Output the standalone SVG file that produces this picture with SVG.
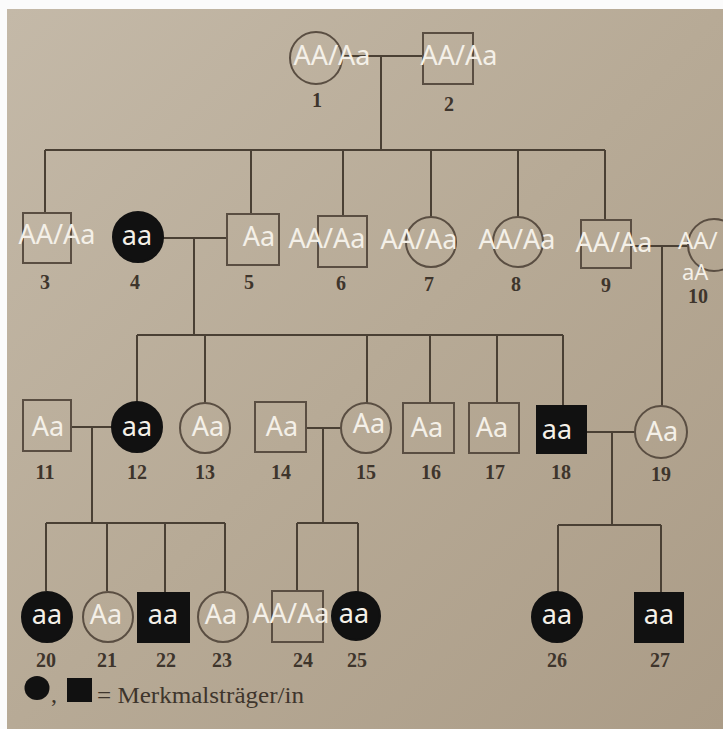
<svg xmlns="http://www.w3.org/2000/svg" width="723" height="729" viewBox="0 0 723 729">
<defs>
<linearGradient id="bg" x1="0" y1="0" x2="1" y2="1">
<stop offset="0" stop-color="#c4b9a8"/>
<stop offset="0.5" stop-color="#b7aa96"/>
<stop offset="1" stop-color="#ab9c87"/>
</linearGradient>
<style>
.ln{stroke:#4a4034;stroke-width:2;fill:none}
.o{fill:none;stroke:#5a4e42;stroke-width:2}
.f{fill:#111;stroke:#111;stroke-width:2}
.g{font-family:"Noto Sans",sans-serif;font-size:27px;fill:#f4f0e8;text-anchor:middle}
.n{font-family:"Liberation Serif",serif;font-size:20px;font-weight:bold;fill:#3e352c;text-anchor:middle}
.lg{font-family:"Liberation Serif",serif;font-size:24px;fill:#3e352c}
</style>
</defs>
<rect width="723" height="729" fill="#fbfbfb"/>
<rect x="7" y="9" width="716" height="720" fill="url(#bg)"/>
<g id="connectors">
<path class="ln" d="M342 56H423M381 56V150M45 150H605M45 150V213M251 150V214M343 150V216M431 150V217M518 150V217M605 150V220"/>
<path class="ln" d="M163 238H227M194 238V335M632 246H688M662 246V406"/>
<path class="ln" d="M137 335H563M137 335V402M205 335V403M367 335V403M430 335V403M497 335V403M563 335V406"/>
<path class="ln" d="M71 427H112M92 427V523M306 428H341M323 428V523M586 432H635M612 432V525"/>
<path class="ln" d="M46 523H225M46 523V591M107 523V591M165 523V593M225 523V591M297 523H358M297 523V591M358 523V592M558 525H661M558 525V592M661 525V593"/>
</g>
<g id="n1"><circle class="o" cx="316" cy="58" r="26"/><text class="g" x="332" y="65">AA/Aa</text><text class="n" x="317" y="107">1</text></g>
<g id="n2"><rect class="o" x="423" y="33" width="50" height="51"/><text class="g" x="459" y="65">AA/Aa</text><text class="n" x="449" y="111">2</text></g>
<g id="n3"><rect class="o" x="23" y="213" width="48" height="50"/><text class="g" x="57" y="244">AA/Aa</text><text class="n" x="45" y="289">3</text></g>
<g id="n4"><circle class="f" cx="138" cy="237" r="25"/><text class="g" x="137" y="245">aa</text><text class="n" x="135" y="289">4</text></g>
<g id="n5"><rect class="o" x="227" y="214" width="52" height="51"/><text class="g" x="259" y="246">Aa</text><text class="n" x="249" y="289">5</text></g>
<g id="n6"><rect class="o" x="318" y="216" width="49" height="51"/><text class="g" x="327" y="248">AA/Aa</text><text class="n" x="341" y="290">6</text></g>
<g id="n7"><circle class="o" cx="431" cy="242" r="25"/><text class="g" x="419" y="249">AA/Aa</text><text class="n" x="429" y="291">7</text></g>
<g id="n8"><circle class="o" cx="518" cy="242" r="25"/><text class="g" x="517" y="249">AA/Aa</text><text class="n" x="516" y="291">8</text></g>
<g id="n9"><rect class="o" x="581" y="220" width="50" height="48"/><text class="g" x="614" y="252">AA/Aa</text><text class="n" x="606" y="292">9</text></g>
<g id="n10"><circle class="o" cx="714" cy="245" r="26"/><text class="g" x="678" y="249" style="text-anchor:start;font-size:24px">AA/</text><text class="g" x="682" y="280" style="text-anchor:start;font-size:22px">aA</text><text class="n" x="688" y="303" style="text-anchor:start">10</text></g>
<g id="n11"><rect class="o" x="23" y="400" width="48" height="51"/><text class="g" x="48" y="436">Aa</text><text class="n" x="45" y="479">11</text></g>
<g id="n12"><circle class="f" cx="137" cy="427" r="25"/><text class="g" x="137" y="436">aa</text><text class="n" x="137" y="479">12</text></g>
<g id="n13"><circle class="o" cx="205" cy="428" r="25"/><text class="g" x="208" y="436">Aa</text><text class="n" x="205" y="479">13</text></g>
<g id="n14"><rect class="o" x="255" y="402" width="51" height="50"/><text class="g" x="282" y="436">Aa</text><text class="n" x="281" y="479">14</text></g>
<g id="n15"><circle class="o" cx="366" cy="428" r="25"/><text class="g" x="369" y="433">Aa</text><text class="n" x="366" y="479">15</text></g>
<g id="n16"><rect class="o" x="403" y="403" width="51" height="50"/><text class="g" x="427" y="437">Aa</text><text class="n" x="431" y="479">16</text></g>
<g id="n17"><rect class="o" x="469" y="403" width="50" height="50"/><text class="g" x="492" y="437">Aa</text><text class="n" x="495" y="479">17</text></g>
<g id="n18"><rect class="f" x="537" y="406" width="49" height="47"/><text class="g" x="557" y="439">aa</text><text class="n" x="561" y="479">18</text></g>
<g id="n19"><circle class="o" cx="661" cy="432" r="26"/><text class="g" x="662" y="441">Aa</text><text class="n" x="661" y="481">19</text></g>
<g id="n20"><circle class="f" cx="47" cy="617" r="25"/><text class="g" x="47" y="624">aa</text><text class="n" x="46" y="667">20</text></g>
<g id="n21"><circle class="o" cx="108" cy="617" r="25"/><text class="g" x="106" y="624">Aa</text><text class="n" x="107" y="667">21</text></g>
<g id="n22"><rect class="f" x="138" y="593" width="51" height="49"/><text class="g" x="163" y="624">aa</text><text class="n" x="166" y="667">22</text></g>
<g id="n23"><circle class="o" cx="223" cy="617" r="25"/><text class="g" x="221" y="624">Aa</text><text class="n" x="222" y="667">23</text></g>
<g id="n24"><rect class="o" x="272" y="591" width="51" height="51"/><text class="g" x="291" y="623">AA/Aa</text><text class="n" x="303" y="667">24</text></g>
<g id="n25"><circle class="f" cx="356" cy="616" r="24"/><text class="g" x="354" y="623">aa</text><text class="n" x="357" y="667">25</text></g>
<g id="n26"><circle class="f" cx="557" cy="617" r="25"/><text class="g" x="557" y="624">aa</text><text class="n" x="557" y="667">26</text></g>
<g id="n27"><rect class="f" x="635" y="593" width="48" height="49"/><text class="g" x="659" y="624">aa</text><text class="n" x="660" y="667">27</text></g>
<g id="legend">
<ellipse cx="37" cy="688" rx="12.5" ry="12" fill="#111"/>
<text class="lg" x="51" y="702">,</text>
<rect x="67" y="678" width="25" height="24" fill="#111"/>
<text class="lg" x="97" y="703" textLength="207" lengthAdjust="spacingAndGlyphs">= Merkmalsträger/in</text>
</g>
</svg>
